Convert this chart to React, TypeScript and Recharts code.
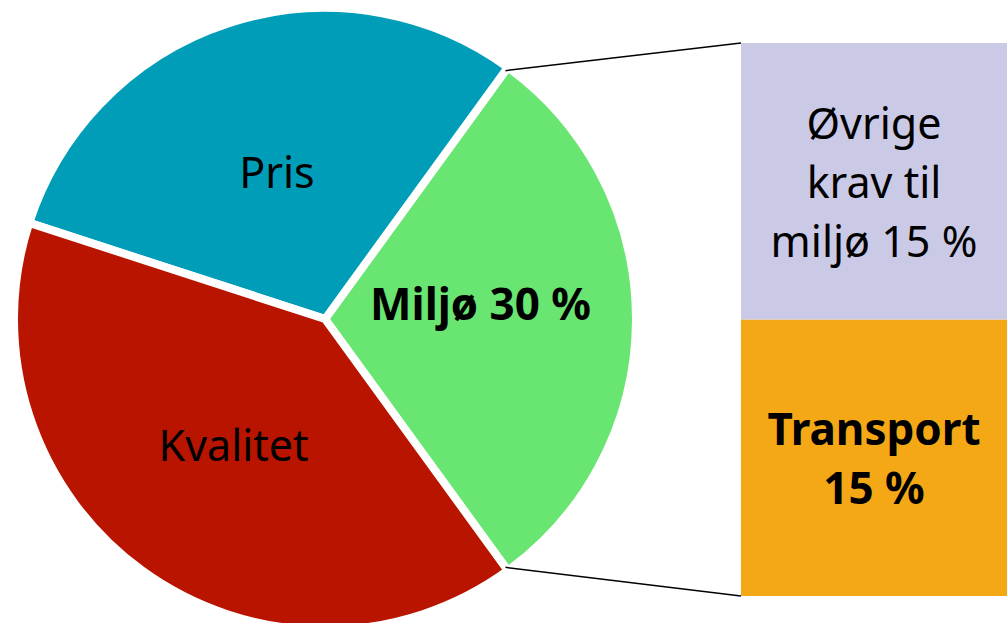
import { PieChart, Pie, Cell, BarChart, Bar, XAxis, YAxis, LabelList } from 'recharts';

const pieNames = ['Miljø 30 %', 'Pris', 'Kvalitet'];
const pieValues = [30, 30, 40];
const pieColors = ['#69E672', '#009DB8', '#B81400'];
const pieBold = [true, false, false];

const barCategories = ['Miljø'];
const transportValues = [15];
const ovrigeValues = [15];
const barLines = {
  transport: ['Transport', '15 %'],
  ovrige: ['Øvrige', 'krav til', 'miljø 15 %'],
};

const FONT = '"Noto Sans", sans-serif';
const RAD = Math.PI / 180;

// bar box on the page
const BAR_X = 741;
const BAR_Y = 43;
const BAR_W = 266;
const BAR_H = 553;

const pieData = pieNames.map((name, i) => ({ name, value: pieValues[i] }));
const barData = barCategories.map((c, i) => ({
  name: c,
  transport: transportValues[i],
  ovrige: ovrigeValues[i],
}));

function PieLabel(props: any) {
  const { cx, cy, midAngle, outerRadius, index } = props;
  const r = outerRadius * 0.5;
  const x = cx + r * Math.cos(-midAngle * RAD);
  const y = cy + r * Math.sin(-midAngle * RAD);
  return (
    <text
      x={x}
      y={index === 0 ? y - 16 : y}
      textAnchor="middle"
      dominantBaseline="central"
      fontFamily={FONT}
      fontSize={pieBold[index] ? 44 : 43}
      fontWeight={pieBold[index] ? 700 : 400}
      fill="#000"
    >
      {pieNames[index]}
    </text>
  );
}

// draws the two connector lines from the Miljø slice out to the bar
function Connectors(props: any) {
  const { cx, cy, outerRadius, startAngle, endAngle, index } = props;
  if (index !== 0) return null;
  const r = outerRadius - 4;
  const a1 = startAngle * RAD;
  const a2 = endAngle * RAD;
  const p1 = [cx + r * Math.cos(-a2), cy + r * Math.sin(-a2)];
  const p2 = [cx + r * Math.cos(-a1), cy + r * Math.sin(-a1)];
  return (
    <g>
      <line x1={p1[0]} y1={p1[1]} x2={BAR_X} y2={BAR_Y} stroke="#000" strokeWidth={1.5} />
      <line x1={p2[0]} y1={p2[1]} x2={BAR_X} y2={BAR_Y + BAR_H} stroke="#000" strokeWidth={1.5} />
    </g>
  );
}

function BarText(lines: string[], bold: boolean) {
  return (props: any) => {
    const { x, y, width, height } = props;
    const lh = 59;
    const cx = x + width / 2;
    const top = y + height / 2 - ((lines.length - 1) * lh) / 2;
    return (
      <text
        textAnchor="middle"
        fontFamily={FONT}
        fontSize={bold ? 44 : 43}
        fontWeight={bold ? 700 : 400}
        fill="#000"
      >
        {lines.map((l, i) => (
          <tspan key={i} x={cx} y={top + i * lh} dominantBaseline="central">
            {l}
          </tspan>
        ))}
      </text>
    );
  };
}

export default function App() {
  return (
    <div style={{ position: 'absolute', left: 0, top: 0, width: 1007, height: 623, background: '#fff' }}>
      <div style={{ position: 'absolute', left: 0, top: 0 }}>
        <PieChart width={1007} height={623} margin={{ top: 0, right: 0, bottom: 0, left: 0 }}>
          <Pie
            data={pieData}
            dataKey="value"
            nameKey="name"
            cx={325}
            cy={319}
            outerRadius={311}
            startAngle={-54}
            endAngle={306}
            stroke="#fff"
            strokeWidth={8}
            label={PieLabel}
            labelLine={false}
            isAnimationActive={false}
          >
            {pieData.map((d, i) => (
              <Cell key={d.name} fill={pieColors[i]} />
            ))}
          </Pie>
          <Pie
            data={pieData}
            dataKey="value"
            cx={325}
            cy={319}
            outerRadius={311}
            startAngle={-54}
            endAngle={306}
            fill="none"
            stroke="none"
            shape={Connectors}
            isAnimationActive={false}
          />
        </PieChart>
      </div>
      <div style={{ position: 'absolute', left: BAR_X, top: BAR_Y }}>
        <BarChart
          width={BAR_W}
          height={BAR_H}
          data={barData}
          margin={{ top: 0, right: 0, bottom: 0, left: 0 }}
          barCategoryGap={0}
        >
          <XAxis dataKey="name" hide />
          <YAxis hide domain={[0, 30]} />
          <Bar dataKey="transport" stackId="a" fill="#F5A816" isAnimationActive={false}>
            <LabelList content={BarText(barLines.transport, true)} />
          </Bar>
          <Bar dataKey="ovrige" stackId="a" fill="#CBCAE6" isAnimationActive={false}>
            <LabelList content={BarText(barLines.ovrige, false)} />
          </Bar>
        </BarChart>
      </div>
    </div>
  );
}
